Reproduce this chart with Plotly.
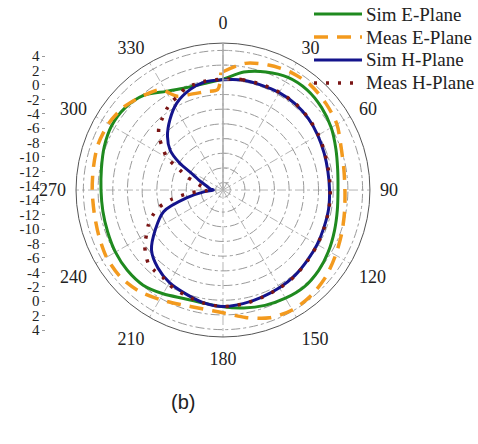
import plotly.graph_objects as go

# ---------------- data (angle in degrees, clockwise from top; gain in dB) ----------------
sim_e_theta = [0, 10, 20, 30, 40, 50, 60, 70, 80, 90, 100, 110, 120, 130, 140, 150, 160, 170,
               180, 190, 200, 210, 220, 230, 240, 250, 260, 270, 280, 290, 300, 310, 320, 330,
               340, 350, 360]
sim_e_r = [0.1, 1.3, 2.1, 2.7, 2.8, 2.5, 2.0, 1.35, 0.85, 0.65, 0.8, 1.15, 1.6, 2.0, 2.2, 2.0,
           1.7, 1.3, 0.9, 0.6, 0.7, 1.3, 1.9, 2.0, 1.9, 1.7, 1.6, 1.6, 1.8, 2.2, 2.5, 2.4, 1.8,
           0.5, -0.2, -0.3, 0.1]

meas_e_theta = [0, 10, 20, 30, 40, 50, 60, 70, 80, 90, 100, 110, 120, 130, 140, 150, 160, 170,
                180, 190, 200, 210, 220, 230, 240, 250, 260, 270, 280, 290, 300, 310, 320, 328,
                334, 340, 350, 357, 359]
meas_e_r = [1.1, 2.5, 3.1, 3.5, 3.6, 3.3, 2.9, 2.1, 1.7, 1.6, 1.8, 2.2, 2.7, 3.3, 3.7, 3.85,
            3.5, 2.6, 1.7, 1.4, 1.6, 2.2, 2.9, 3.3, 3.3, 3.0, 2.8, 2.8, 2.9, 3.1, 3.0, 2.6, 1.8,
            1.1, -0.8, -1.2, -1.4, -1.3, 1.0]

sim_h_theta = [0, 10, 20, 30, 40, 50, 60, 70, 80, 90, 100, 110, 120, 130, 140, 150, 160, 170,
               180, 190, 200, 210, 220, 230, 240, 250, 258, 265, 270, 275, 285, 292, 297, 302,
               307, 314, 323, 332, 342, 350, 360]
sim_h_r = [0.0, 0.2, 0.2, 0.3, 0.3, 0.15, -0.1, -0.35, -0.5, -0.5, -0.4, -0.35, -0.2, -0.05,
           0.2, 0.35, 0.5, 0.7, 0.85, 0.55, 0.0, -0.45, -1.2, -2.3, -4.4, -6.4, -10.0, -12.5,
           -13.7, -13.3, -12.6, -11.5, -10.5, -8.0, -6.0, -4.5, -3.0, -1.6, -0.6, -0.1, 0.0]

meas_h_theta = [0, 10, 20, 30, 40, 50, 60, 70, 80, 90, 100, 110, 120, 130, 140, 150, 160, 170,
                180, 190, 200, 210, 215, 220, 225, 230, 235, 240, 245, 250, 255, 260, 265, 270,
                275, 280, 285, 290, 295, 300, 305, 310, 315, 320, 325, 330, 335, 340, 345, 350, 360]
meas_h_r = [0.1, 0.25, 0.3, 0.35, 0.35, 0.2, 0.0, -0.25, -0.4, -0.4, -0.35, -0.3, -0.15, 0.0,
            0.25, 0.4, 0.55, 0.75, 0.85, 0.6, 0.2, -0.2, -0.6, -0.6, -0.7, -1.3, -2.0, -3.0,
            -3.8, -4.8, -6.0, -8.0, -10.5, -13.0, -12.8, -12.0, -11.3, -9.8, -8.5, -6.2, -5.0,
            -3.6, -2.7, -2.2, -1.6, -1.1, -0.8, -0.2, -0.1, 0.0, 0.1]

angle_ticks = [0, 30, 60, 90, 120, 150, 180, 210, 240, 270, 300, 330]
scale_labels = [4, 2, 0, -2, -4, -6, -8, -10, -12, -14]
r_min, r_max = -15, 5
grid_vals = [-14, -12, -10, -8, -6, -4, -2, 0, 2, 4]

series = [
    ("Sim E-Plane", sim_e_theta, sim_e_r, dict(color="#1f8a1f", width=3, dash="solid")),
    ("Meas E-Plane", meas_e_theta, meas_e_r, dict(color="#f39a1e", width=3.5, dash="14px,9px")),
    ("Sim H-Plane", sim_h_theta, sim_h_r, dict(color="#14148c", width=3, dash="solid")),
    ("Meas H-Plane", meas_h_theta, meas_h_r, dict(color="#7a1515", width=3.5, dash="3px,9px")),
]

W, H = 478, 444
fig = go.Figure()
for name, th, rr, ln in series:
    fig.add_trace(go.Scatterpolar(theta=th, r=rr, mode="lines", name=name, showlegend=False,
                                  line=dict(shape="spline", smoothing=0.8, **ln)))

# invisible trace so the side dB scale (cartesian) is drawn
fig.add_trace(go.Scatter(x=[None], y=[None], showlegend=False, hoverinfo="skip"))

serif = "Liberation Serif, Times New Roman, serif"

# side scale: mirrored, distance from centre = value - r_min
tv, tt = [], []
for v in scale_labels:
    tv += [v - r_min, -(v - r_min)]
    tt += [str(v), str(v)]

# manual legend (lines + texts) in the top-right corner
shapes = [dict(type="line", xref="paper", yref="paper", x0=0.4665, x1=0.4665,
               y0=0.241, y1=0.903, line=dict(color="#aaaaaa", width=1.5), layer="below")]
annotations = []
for i, (name, th, rr, ln) in enumerate(series):
    ypx = 14 + 23 * i
    shapes.append(dict(type="line", xref="paper", yref="paper", x0=314 / W, x1=362 / W,
                       y0=1 - ypx / H, y1=1 - ypx / H,
                       line=dict(color=ln["color"], width=ln["width"], dash=ln["dash"])))
    annotations.append(dict(text=name, x=364 / W, y=1 - ypx / H, xref="paper", yref="paper",
                            xanchor="left", yanchor="middle", showarrow=False,
                            font=dict(family=serif, size=19, color="#222")))
annotations.append(dict(text="(b)", x=0.383, y=1 - 402 / H, xref="paper", yref="paper",
                        xanchor="center", yanchor="middle", showarrow=False,
                        font=dict(family="Liberation Sans, Arial, sans-serif", size=20,
                                  color="#222")))

fig.update_layout(
    width=W, height=H,
    margin=dict(l=0, r=0, t=0, b=0, autoexpand=False),
    paper_bgcolor="white", plot_bgcolor="white",
    font=dict(family=serif, size=17, color="black"),
    showlegend=False,
    polar=dict(
        domain=dict(x=[0.159, 0.774], y=[0.241, 0.903]),
        bgcolor="white",
        radialaxis=dict(range=[r_min, r_max], tickvals=grid_vals, showticklabels=False,
                        angle=90, showline=True, linecolor="#aaaaaa", linewidth=1.5,
                        ticks="outside", ticklen=5, tickcolor="#aaaaaa",
                        gridcolor="#9a9a9a", griddash="dashdot", gridwidth=0.8),
        angularaxis=dict(rotation=90, direction="clockwise", tickvals=angle_ticks,
                         ticktext=[str(a) for a in angle_ticks],
                         tickfont=dict(family=serif, size=18, color="#222"),
                         showline=True, linecolor="#555555", linewidth=1,
                         ticks="outside", ticklen=6, tickcolor="rgba(0,0,0,0)",
                         gridcolor="#b5b5b5", griddash="dashdot", gridwidth=0.8),
    ),
    xaxis=dict(domain=[0, 0.1], visible=False, range=[0, 1], automargin=False),
    yaxis=dict(domain=[0.2405, 0.890], range=[-(r_max - r_min), r_max - r_min],
               anchor="free", position=0.095, tickvals=tv, ticktext=tt, automargin=False,
               showgrid=False, zeroline=False, showline=False,
               ticks="outside", ticklen=3, tickcolor="#999", tickwidth=1,
               tickfont=dict(family=serif, size=15, color="#222")),
    shapes=shapes,
    annotations=annotations,
)

fig.write_html("out.html")
